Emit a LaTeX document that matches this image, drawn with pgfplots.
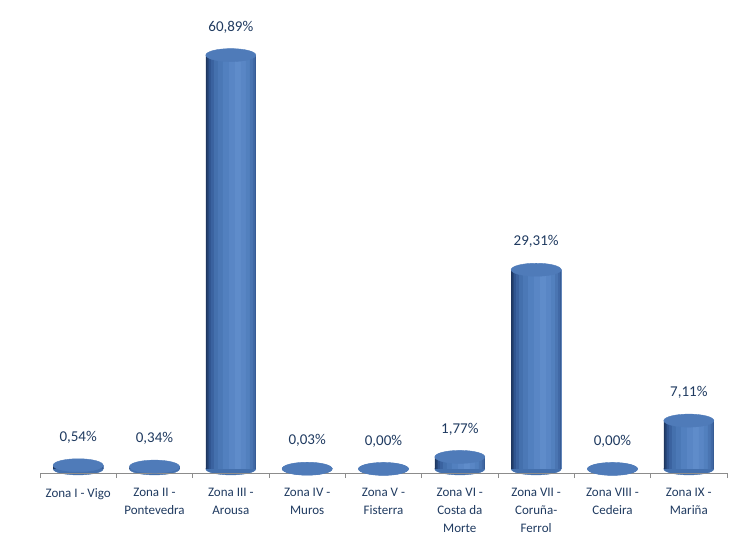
\documentclass[border=0pt]{standalone}
\usepackage{pgfplots}
\pgfplotsset{compat=1.18}
\usepackage{pgfplotstable}
\usepackage{fontspec}
\setmainfont{Carlito}
\definecolor{lab}{HTML}{1F3A60}
\definecolor{sa}{HTML}{1E3660}
\definecolor{sb}{HTML}{27477A}
\definecolor{sc}{HTML}{305590}
\definecolor{sd}{HTML}{3A629F}
\definecolor{se}{HTML}{4470AD}
\definecolor{sf}{HTML}{4B78B6}
\definecolor{sg}{HTML}{5280BF}
\definecolor{sh}{HTML}{5986C5}
\definecolor{si}{HTML}{5F8CCA}
\definecolor{sj}{HTML}{5986C5}
\definecolor{sk}{HTML}{5280BE}
\definecolor{sl}{HTML}{4A75B2}
\definecolor{sm}{HTML}{4169A6}
\definecolor{sn}{HTML}{375C95}
\definecolor{topc}{HTML}{4F7BB9}
\definecolor{botc}{HTML}{4470AD}
\definecolor{axc}{HTML}{8C8C8C}
\pgfplotstableread{
x y lab
0 0.54 {0,54\%}
1 0.34 {0,34\%}
2 60.89 {60,89\%}
3 0.03 {0,03\%}
4 0.00 {0,00\%}
5 1.77 {1,77\%}
6 29.31 {29,31\%}
7 0.00 {0,00\%}
8 7.11 {7,11\%}
}\data
\pgfplotstableread{
x y
0 0
1 0
2 0
3 0
4 0
5 0
6 0
7 0
8 0
}\base
\newcommand{\strip}[3]{\addplot[ybar, bar width=#2pt, bar shift=#3pt, fill=#1, draw=none] table[x=x,y=y] {\data};}
\begin{document}
\begin{tikzpicture}
\begin{axis}[
  set layers,
  scale only axis,
  width=687pt, height=473pt,
  xmin=-0.5, xmax=8.5,
  ymin=-0.6, ymax=69,
  axis x line*=bottom,
  axis y line=none,
  axis line style={axc, line width=0.8pt},
  xtick={0,...,8},
  xticklabels={{Zona I - Vigo},{Zona II -\\Pontevedra},{Zona III -\\Arousa},{Zona IV -\\Muros},{Zona V -\\Fisterra},{Zona VI -\\Costa da\\Morte},{Zona VII -\\Coruña-\\Ferrol},{Zona VIII -\\Cedeira},{Zona IX -\\Mariña}},
  xticklabel style={align=center, font=\fontsize{13}{18}\selectfont, text=lab, anchor=north, yshift=-12pt},
  major tick length=0pt,
  minor xtick={-0.5,0.5,...,8.5},
  minor tick length=5pt,
  tick align=outside,
  minor tick style={axc, line width=0.8pt},
  clip=false,
]
\addplot[on layer=axis background, mark layer=axis background, only marks, mark=*, mark size=25pt, mark options={yscale=0.24, draw=botc, fill=botc}] table[x=x,y=y] {\base};
\strip{sa}{50}{0}
\strip{sb}{48.5}{0.75}
\strip{sc}{47}{1.5}
\strip{sd}{45}{2.5}
\strip{se}{42}{4}
\strip{sf}{38}{6}
\strip{sg}{33}{8.5}
\strip{sh}{27}{11.5}
\strip{si}{21}{14.5}
\strip{sj}{15}{17.5}
\strip{sk}{10}{20}
\strip{sl}{6}{22}
\strip{sm}{3}{23.5}
\strip{sn}{1}{24.5}
\addplot[only marks, mark=*, mark size=25pt, mark options={yscale=0.26, draw=topc, fill=topc},
  nodes near coords, point meta=explicit symbolic,
  every node near coord/.append style={anchor=center, yshift=28pt, font=\fontsize{15}{16}\selectfont, text=lab}]
  table[x=x,y=y,meta=lab] {\data};
\end{axis}
\path[use as bounding box] (-40pt,-73pt) rectangle (712pt,473pt);
\end{tikzpicture}
\end{document}
